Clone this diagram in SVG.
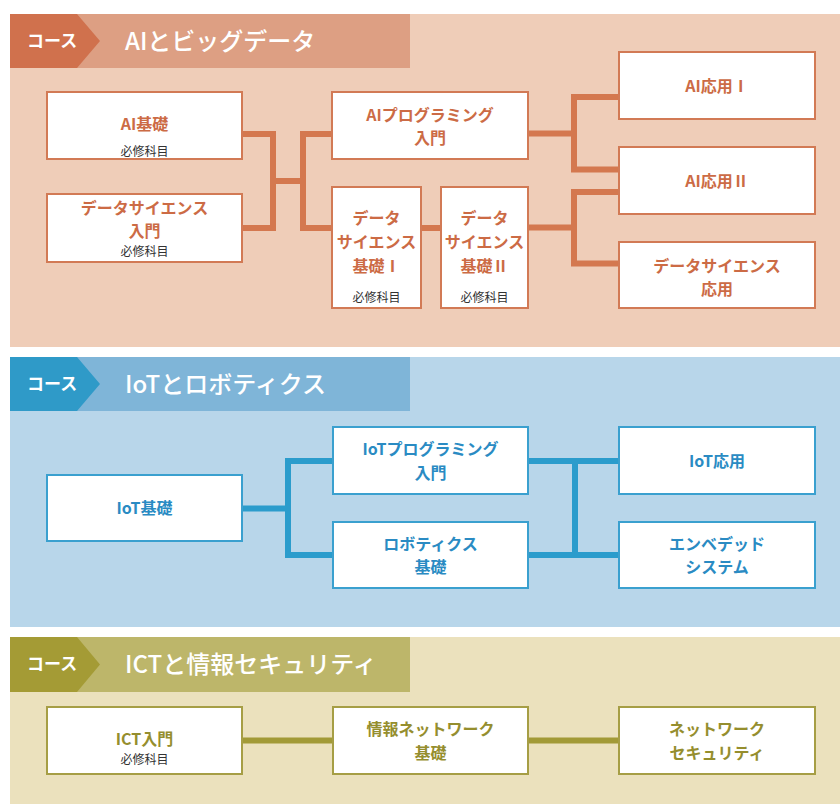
<svg xmlns="http://www.w3.org/2000/svg" width="840" height="804" viewBox="0 0 840 804">
<style>
text{font-family:"Noto Sans CJK JP","Noto Sans",sans-serif;text-anchor:middle}
.hd{fill:#fff;font-weight:700;font-size:17px;text-anchor:start}
.ttl{fill:#fff;font-weight:500;font-size:24px;text-anchor:start}
.sub{fill:#333;font-size:12px;font-weight:400}
.box{fill:#fff;stroke-width:2}
.ai .box{stroke:#d27a55}
.ai text.n{fill:#cc6b45;font-weight:700;font-size:16px}
.iot .box{stroke:#3aa0cf}
.iot text.n{fill:#2a8bc3;font-weight:700;font-size:16px}
.ict .box{stroke:#a69e45}
.ict text.n{fill:#958e2e;font-weight:700;font-size:16px}
.conn path{fill:none;stroke-width:6;stroke-linejoin:miter}
#conn-ai path{stroke:#d4784f}
#conn-iot path{stroke:#2b9ccc}
#conn-ict path{stroke:#a29a37}
</style>
<rect width="840" height="804" fill="#fff"/>
<!-- Section backgrounds -->
<g id="sec-ai">
<rect x="10" y="14" width="830" height="333" fill="#efcdb8"/>
<rect x="10" y="14" width="400" height="54" fill="#dd9f83"/>
<polygon points="10,14 77,14 100,41 77,68 10,68" fill="#d0714d"/>
<text class="hd" x="27" y="47">コース</text>
<text class="ttl" x="125" y="50">AIとビッグデータ</text>
</g>
<g id="sec-iot">
<rect x="10" y="357" width="830" height="270" fill="#b8d6ea"/>
<rect x="10" y="357" width="400" height="54" fill="#7fb5d8"/>
<polygon points="10,357 77,357 100,384 77,411 10,411" fill="#2f9ac8"/>
<text class="hd" x="27" y="390">コース</text>
<text class="ttl" x="125" y="393">IoTとロボティクス</text>
</g>
<g id="sec-ict">
<rect x="10" y="637" width="830" height="167" fill="#ebe1bd"/>
<rect x="10" y="637" width="400" height="55" fill="#bdb66a"/>
<polygon points="10,637 77,637 100,664.5 77,692 10,692" fill="#a49b35"/>
<text class="hd" x="27" y="670">コース</text>
<text class="ttl" x="125" y="673">ICTと情報セキュリティ</text>
</g>

<!-- Connectors -->
<g id="connectors" class="conn">
<g id="conn-ai">
<path d="M242,134 H273 V228 H242"/>
<path d="M273,181 H303"/>
<path d="M332,134 H303 V228 H332"/>
<path d="M421,228 H441"/>
<path d="M528,133.5 H574"/>
<path d="M619,97 H574 V169.5 H619"/>
<path d="M528,227.5 H574"/>
<path d="M619,192 H574 V263.5 H619"/>
</g>
<g id="conn-iot">
<path d="M242,508.5 H288"/>
<path d="M333,461 H288 V555 H333"/>
<path d="M528,461 H619"/>
<path d="M528,555 H619"/>
<path d="M575,461 V555"/>
</g>
<g id="conn-ict">
<path d="M242,740.5 H333"/>
<path d="M528,740.5 H619"/>
</g>
</g>

<!-- AI nodes -->
<g class="ai">
<g id="ai-kiso">
<rect class="box" x="47" y="92" width="195" height="67"/>
<text class="n" x="144.5" y="130">AI基礎</text>
<text class="sub" x="144.5" y="156">必修科目</text>
</g>
<g id="ds-nyumon">
<rect class="box" x="47" y="194" width="195" height="68"/>
<text class="n" x="144.5" y="214">データサイエンス</text>
<text class="n" x="144.5" y="237">入門</text>
<text class="sub" x="144.5" y="256">必修科目</text>
</g>
<g id="ai-prog">
<rect class="box" x="332" y="92" width="196" height="67"/>
<text class="n" x="430" y="121">AIプログラミング</text>
<text class="n" x="430" y="144">入門</text>
</g>
<g id="ds-kiso1">
<rect class="box" x="332" y="187" width="89" height="121"/>
<text class="n" x="376.5" y="224">データ</text>
<text class="n" x="376.5" y="248">サイエンス</text>
<text class="n" x="376.5" y="272">基礎Ⅰ</text>
<text class="sub" x="376.5" y="302">必修科目</text>
</g>
<g id="ds-kiso2">
<rect class="box" x="441" y="187" width="87" height="121"/>
<text class="n" x="484.5" y="224">データ</text>
<text class="n" x="484.5" y="248">サイエンス</text>
<text class="n" x="484.5" y="272">基礎Ⅱ</text>
<text class="sub" x="484.5" y="302">必修科目</text>
</g>
<g id="ai-oyo1">
<rect class="box" x="619" y="52" width="196" height="67"/>
<text class="n" x="717" y="92">AI応用Ⅰ</text>
</g>
<g id="ai-oyo2">
<rect class="box" x="619" y="147" width="196" height="67"/>
<text class="n" x="717" y="187">AI応用Ⅱ</text>
</g>
<g id="ds-oyo">
<rect class="box" x="619" y="242" width="196" height="66"/>
<text class="n" x="717" y="272">データサイエンス</text>
<text class="n" x="717" y="295">応用</text>
</g>
</g>

<!-- IoT nodes -->
<g class="iot">
<g id="iot-kiso">
<rect class="box" x="47" y="475" width="195" height="66"/>
<text class="n" x="144.5" y="514">IoT基礎</text>
</g>
<g id="iot-prog">
<rect class="box" x="333" y="427" width="195" height="67"/>
<text class="n" x="430.5" y="455">IoTプログラミング</text>
<text class="n" x="430.5" y="479">入門</text>
</g>
<g id="robo-kiso">
<rect class="box" x="333" y="522" width="195" height="66"/>
<text class="n" x="430.5" y="550">ロボティクス</text>
<text class="n" x="430.5" y="573">基礎</text>
</g>
<g id="iot-oyo">
<rect class="box" x="619" y="427" width="196" height="67"/>
<text class="n" x="717" y="467">IoT応用</text>
</g>
<g id="embedded">
<rect class="box" x="619" y="522" width="196" height="66"/>
<text class="n" x="717" y="550">エンベデッド</text>
<text class="n" x="717" y="573">システム</text>
</g>
</g>

<!-- ICT nodes -->
<g class="ict">
<g id="ict-nyumon">
<rect class="box" x="47" y="707" width="195" height="67"/>
<text class="n" x="144.5" y="745">ICT入門</text>
<text class="sub" x="144.5" y="764">必修科目</text>
</g>
<g id="net-kiso">
<rect class="box" x="333" y="707" width="195" height="67"/>
<text class="n" x="430.5" y="735">情報ネットワーク</text>
<text class="n" x="430.5" y="759">基礎</text>
</g>
<g id="net-sec">
<rect class="box" x="619" y="707" width="196" height="67"/>
<text class="n" x="717" y="735">ネットワーク</text>
<text class="n" x="717" y="759">セキュリティ</text>
</g>
</g>
</svg>
